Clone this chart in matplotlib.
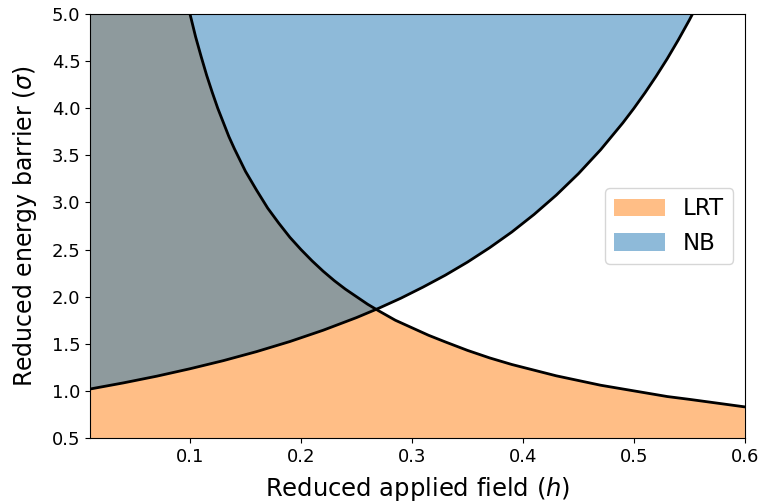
import matplotlib.pyplot as plt
import matplotlib.patches as mpatches

# LRT boundary (decreasing curve)
h_lrt = [0.01, 0.02, 0.03, 0.04, 0.05, 0.06, 0.07, 0.08, 0.09, 0.095, 0.100,
         0.105, 0.110, 0.115, 0.120, 0.125, 0.130, 0.135, 0.140, 0.145, 0.150,
         0.160, 0.170, 0.180, 0.190, 0.200, 0.210, 0.220, 0.230, 0.240, 0.250,
         0.260, 0.270, 0.285, 0.300, 0.315, 0.330, 0.350, 0.370, 0.390, 0.410,
         0.430, 0.450, 0.470, 0.490, 0.510, 0.530, 0.550, 0.575, 0.600]
s_lrt = [50.0, 25.0, 16.7, 12.5, 10.0, 8.33, 7.14, 6.25, 5.56, 5.26, 5.00,
         4.76, 4.55, 4.35, 4.17, 4.00, 3.85, 3.70, 3.57, 3.45, 3.33,
         3.13, 2.94, 2.78, 2.63, 2.50, 2.38, 2.27, 2.17, 2.08, 2.00,
         1.92, 1.85, 1.75, 1.67, 1.59, 1.52, 1.43, 1.35, 1.28, 1.22,
         1.16, 1.11, 1.06, 1.02, 0.98, 0.94, 0.91, 0.87, 0.83]

# NB boundary (increasing curve)
h_nb = [0.01, 0.04, 0.07, 0.10, 0.13, 0.16, 0.19, 0.22, 0.25, 0.27, 0.29,
        0.31, 0.33, 0.35, 0.37, 0.39, 0.41, 0.43, 0.45, 0.47, 0.49, 0.50,
        0.51, 0.52, 0.53, 0.54, 0.55, 0.56, 0.58, 0.60]
s_nb = [1.02, 1.085, 1.156, 1.235, 1.321, 1.417, 1.524, 1.644, 1.778, 1.877,
        1.984, 2.102, 2.228, 2.367, 2.520, 2.687, 2.873, 3.078, 3.306, 3.560,
        3.845, 4.000, 4.165, 4.340, 4.526, 4.726, 4.938, 5.165, 5.669, 6.250]

ymin, ymax = 0.5, 5.0

fig = plt.figure(figsize=(7.64, 5.04), dpi=100)
ax = fig.add_axes([0.118, 0.131, 0.857, 0.841])

ax.fill_between(h_lrt, ymin, s_lrt, color='C1', alpha=0.5, lw=0)
ax.fill_between(h_nb, s_nb, 100, color='C0', alpha=0.5, lw=0)
ax.plot(h_lrt, s_lrt, color='k', lw=2)
ax.plot(h_nb, s_nb, color='k', lw=2)

ax.set_xlim(0.01, 0.6)
ax.set_ylim(ymin, ymax)
ax.set_xticks([0.1, 0.2, 0.3, 0.4, 0.5, 0.6])
ax.set_yticks([0.5, 1.0, 1.5, 2.0, 2.5, 3.0, 3.5, 4.0, 4.5, 5.0])
ax.set_yticklabels(['%.1f' % v for v in ax.get_yticks()])
ax.tick_params(labelsize=13)
ax.set_xlabel('Reduced applied field ($h$)', fontsize=17.5, labelpad=7)
ax.set_ylabel('Reduced energy barrier ($\\sigma$)', fontsize=17, labelpad=9)

handles = [mpatches.Patch(facecolor='C1', alpha=0.5, lw=0, label='LRT'),
           mpatches.Patch(facecolor='C0', alpha=0.5, lw=0, label='NB')]
ax.legend(handles=handles, loc='center right', fontsize=16.5,
          handlelength=2.2, handleheight=0.8)

fig.savefig('out.png', dpi=100)
